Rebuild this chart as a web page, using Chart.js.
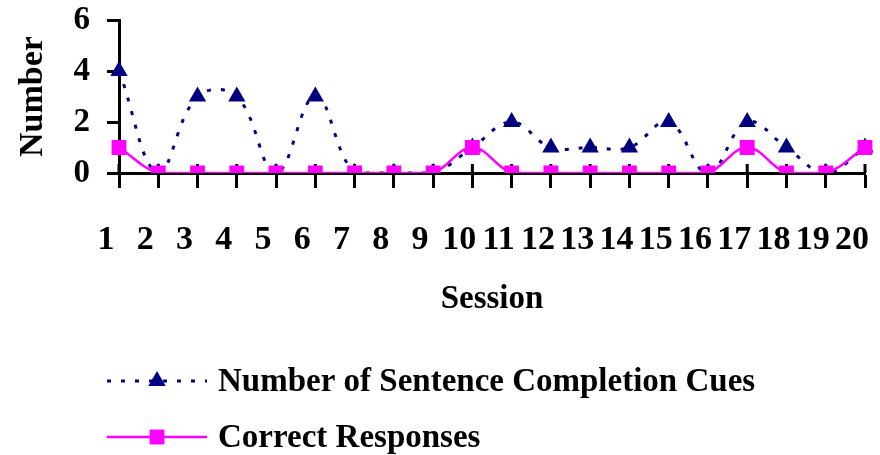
<!DOCTYPE html>
<html>
<head>
<meta charset="utf-8">
<script src="https://cdn.jsdelivr.net/npm/chart.js@4.4.1/dist/chart.umd.min.js"></script>
<style>
  html, body { margin: 0; padding: 0; background: #ffffff; }
  canvas { display: block; }
</style>
</head>
<body>
<canvas id="chart" width="880" height="455"></canvas>
<script>
// Sessions on the x axis
const sessions = ['1','2','3','4','5','6','7','8','9','10','11','12','13','14','15','16','17','18','19','20'];
// Number of sentence completion cues given per session
const cues = [4, 0, 3, 3, 0, 3, 0, 0, 0, 1, 2, 1, 1, 1, 2, 0, 2, 1, 0, 1];
// Correct responses per session
const correct = [1, 0, 0, 0, 0, 0, 0, 0, 0, 1, 0, 0, 0, 0, 0, 0, 1, 0, 0, 1];
// Y axis tick values
const yTicks = [0, 2, 4, 6];
// Series names
const seriesNames = ['Number of Sentence Completion Cues', 'Correct Responses'];

const FONT_FAMILY = "'Liberation Serif', 'Times New Roman', serif";
const NAVY = '#000080';
const MAGENTA = '#FF00FF';

// Short tick marks that cross above the x axis line
const crossTicks = {
  id: 'crossTicks',
  beforeDatasetsDraw(chart) {
    const xs = chart.scales.x;
    const ctx = chart.ctx;
    const y0 = chart.chartArea.bottom;
    ctx.save();
    ctx.strokeStyle = '#000';
    ctx.lineWidth = 3;
    for (let i = 0; i < xs.ticks.length; i++) {
      const px = xs.getPixelForTick(i);
      ctx.beginPath();
      ctx.moveTo(px, y0 - 9);
      ctx.lineTo(px, y0);
      ctx.stroke();
    }
    ctx.restore();
  }
};

// Legend stacked in two rows below the axis title
const stackedLegend = {
  id: 'stackedLegend',
  afterDraw(chart) {
    const ctx = chart.ctx;
    const rows = [381, 437];
    const x0 = 107, x1 = 207, xm = 157, xt = 218;
    chart.data.datasets.forEach((ds, i) => {
      const y = rows[i];
      ctx.save();
      ctx.strokeStyle = ds.borderColor;
      ctx.lineWidth = ds.borderWidth;
      ctx.setLineDash(ds.borderDash || []);
      ctx.beginPath();
      ctx.moveTo(x0, y);
      ctx.lineTo(x1, y);
      ctx.stroke();
      ctx.setLineDash([]);
      ctx.fillStyle = ds.pointBackgroundColor;
      const r = ds.pointRadius;
      ctx.beginPath();
      if (ds.pointStyle === 'triangle') {
        ctx.moveTo(xm, y - r);
        ctx.lineTo(xm + 0.866 * r, y + 0.5 * r);
        ctx.lineTo(xm - 0.866 * r, y + 0.5 * r);
        ctx.closePath();
      } else {
        const s = Math.SQRT1_2 * r;
        ctx.rect(xm - s, y - s, 2 * s, 2 * s);
      }
      ctx.fill();
      ctx.fillStyle = '#000';
      ctx.font = 'bold 33px ' + FONT_FAMILY;
      ctx.textAlign = 'left';
      ctx.textBaseline = 'middle';
      ctx.fillText(seriesNames[i], xt, y + 1);
      ctx.restore();
    });
  }
};

// Keep the plot area fixed by the layout padding alone
function clearScalePadding(scale) {
  scale.paddingTop = 0;
  scale.paddingBottom = 0;
  scale.paddingLeft = 0;
  scale.paddingRight = 0;
}

new Chart(document.getElementById('chart'), {
  type: 'line',
  data: {
    labels: sessions,
    datasets: [
      {
        label: seriesNames[0],
        data: cues,
        borderColor: NAVY,
        backgroundColor: NAVY,
        borderWidth: 3,
        borderDash: [4, 10],
        tension: 0.4,
        pointStyle: 'triangle',
        pointRadius: 10,
        pointBackgroundColor: NAVY,
        pointBorderColor: NAVY,
        pointBorderWidth: 0,
        order: 2
      },
      {
        label: seriesNames[1],
        data: correct,
        borderColor: MAGENTA,
        backgroundColor: MAGENTA,
        borderWidth: 2.5,
        tension: 0.4,
        pointStyle: 'rect',
        pointRadius: 10.5,
        pointBackgroundColor: MAGENTA,
        pointBorderColor: MAGENTA,
        pointBorderWidth: 0,
        order: 1
      }
    ]
  },
  options: {
    responsive: false,
    animation: false,
    events: [],
    layout: { padding: { left: 0, right: 15, top: 20, bottom: 132 } },
    plugins: {
      legend: { display: false },
      tooltip: { enabled: false }
    },
    scales: {
      x: {
        type: 'category',
        offset: false,
        grid: {
          display: true,
          drawOnChartArea: false,
          drawTicks: true,
          tickLength: 15,
          tickWidth: 3,
          tickColor: '#000'
        },
        border: { display: true, color: '#000', width: 3 },
        ticks: {
          autoSkip: false,
          maxRotation: 0,
          minRotation: 0,
          padding: 32,
          labelOffset: -13,
          color: '#000',
          font: { family: FONT_FAMILY, size: 34, weight: 'bold' }
        },
        title: {
          display: true,
          text: 'Session',
          color: '#000',
          padding: { top: 0, bottom: 4 },
          font: { family: FONT_FAMILY, size: 33, weight: 'bold' }
        },
        afterFit(scale) {
          scale.height = 150;
          clearScalePadding(scale);
        }
      },
      y: {
        min: 0,
        max: 6,
        afterBuildTicks(scale) { scale.ticks = yTicks.map(v => ({ value: v })); },
        grid: {
          display: true,
          drawOnChartArea: false,
          drawTicks: true,
          tickLength: 12,
          tickWidth: 3,
          tickColor: '#000'
        },
        border: { display: true, color: '#000', width: 3 },
        ticks: {
          padding: 17,
          color: '#000',
          font: { family: FONT_FAMILY, size: 33, weight: 'bold' }
        },
        title: {
          display: true,
          text: 'Number',
          color: '#000',
          padding: { top: 13, bottom: 0 },
          font: { family: FONT_FAMILY, size: 34, weight: 'bold' }
        },
        afterFit(scale) {
          scale.width = 119;
          clearScalePadding(scale);
        }
      }
    }
  },
  plugins: [crossTicks, stackedLegend]
});
</script>
</body>
</html>
